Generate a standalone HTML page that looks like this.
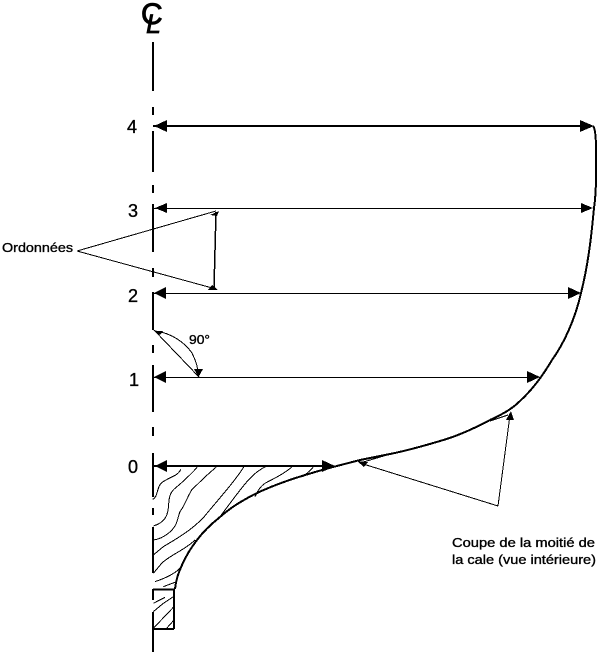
<!DOCTYPE html>
<html><head><meta charset="utf-8"><style>
html,body{margin:0;padding:0;background:#fff}
svg{display:block}
text{font-family:"Liberation Sans",sans-serif;fill:#000;stroke:#000;stroke-width:.35}
path,rect{shape-rendering:crispEdges}
</style></head><body>
<svg width="600" height="655" viewBox="0 0 600 655" xmlns="http://www.w3.org/2000/svg">
<text x="141" y="24" font-size="30" style="stroke-width:.9">C</text>
<text x="146" y="33" font-size="27" font-style="italic" style="stroke-width:.7">L</text>
<g stroke="#000" stroke-width="2" fill="none">
<path d="M153 42V91M153 107V115M153 131V172M153 185V193M153 204V252M153 268V277M153 292V330M153 345V353M153 365V412M153 427V436M153 453V497M153 508V515M153 527V573M153 628V652"/>
<path d="M593 126C595 128 596 135 596 150C596.500 175 596 195 594 208C591 240 588 265 581 293C575 320 563 345 552 360C542 377 532 390 520 401C510 411 500 415 490 420C475 428 458 436 440 441C420 447 405 451 390 454L360 460L333 467C300 476 275 484 253 495C240 502 230 508 220 517C210 525 203 532 197 540C190 549 186 556 182 565C178 574 176 580 175 589"/>
<path d="M153 126H582M153 466H325"/>
<path d="M153 589.500H174M174 589V629M153 629H174M153 589V600M153 612V629"/>
<path d="M216 212L214 288" stroke-width="1.500"/>
</g>
<g stroke="#000" stroke-width="1" fill="none">
<path d="M153 208.500H583M153 293.500H571M153 377.500H530"/>
<path d="M77 251L216 211M77 251L216 289"/>
<path d="M154 330L199 377M155 331C172 333 185 343 192 353C196 361 198.500 368 198.500 377"/>
<path d="M498 506L360 463M498 506L510 415M360 463L387 455M490 421L508 415"/>
<g transform="translate(120 440) scale(.3333)" stroke-width="3">
<path d="M182 88C175 108 150 110 125 128C110 140 115 170 98 178"/>
<path d="M232 82C210 105 190 125 165 145C135 170 155 205 135 235C125 250 110 255 100 258"/>
<path d="M288 82C260 105 235 130 215 150C200 175 195 195 180 215C170 240 175 255 145 280C130 292 115 298 100 300"/>
<path d="M372 80C350 115 320 150 265 215C235 255 190 285 130 320L100 345"/>
<path d="M437 80C395 100 375 130 300 230"/>
<path d="M515 82C480 110 455 118 435 130C420 140 415 150 405 170"/>
<path d="M580 82L550 110"/>
<path d="M225 300C195 330 150 345 125 370L100 400"/>
<path d="M185 378C170 400 135 415 105 425"/>
<path d="M165 427L130 440"/>
<path d="M135 472L100 490M160 470L130 490L100 515M162 500L100 565M162 540L140 565"/>
</g>
</g>
<g fill="#000">
<path d="M154 126L167 120V132ZM594 126L580 120V132Z"/>
<path d="M155 208L167 203V213ZM593 208L581 203V213Z"/>
<path d="M154 293L166 287V299ZM581 293L568 287V299Z"/>
<path d="M154 377L166 371V383ZM540 377L527 371V383Z"/>
<path d="M155 466L167 460V472ZM335 466L322 460V472Z"/>
<path d="M219 211L210 215L217 216ZM218 290L208 290L212 285Z"/>
<path d="M155 331L163 331L160 335ZM198.500 377L194 369H203Z"/>
<path d="M357 461L368 462L364 467ZM511 411L506 420H514Z"/>
</g>
<text x="127" y="133" font-size="18">4</text>
<text x="128" y="217" font-size="18">3</text>
<text x="128" y="302" font-size="18">2</text>
<text x="129" y="386" font-size="18">1</text>
<text x="128" y="473" font-size="18">0</text>
<text x="2" y="252" font-size="13" textLength="71" lengthAdjust="spacingAndGlyphs">Ordonnées</text>
<text x="189" y="344" font-size="13" textLength="21" lengthAdjust="spacingAndGlyphs">90°</text>
<text x="452" y="547" font-size="13" textLength="143" lengthAdjust="spacingAndGlyphs">Coupe de la moitié de</text>
<text x="452" y="564" font-size="13" textLength="144" lengthAdjust="spacingAndGlyphs">la cale (vue intérieure)</text>
</svg>
</body></html>
